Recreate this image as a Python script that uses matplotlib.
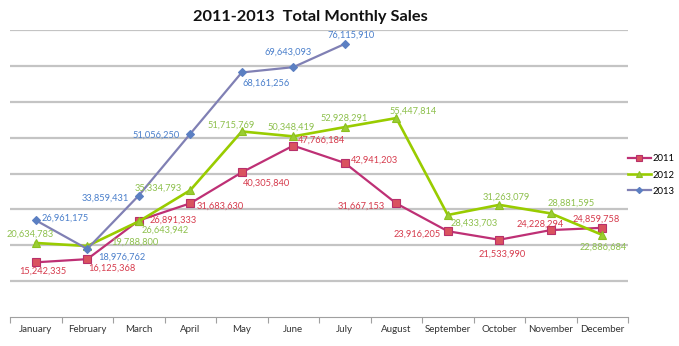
import matplotlib.pyplot as plt
import numpy as np

# Data
months = ['January', 'February', 'March', 'April', 'May', 'June', 'July',
          'August', 'September', 'October', 'November', 'December']

sales_2011 = [15242335, 16125368, 26891333, 31683630, 40305840, 47766184,
              42941203, 31667153, 23916205, 21533990, 24228294, 24859758]
sales_2012 = [20634783, 19788800, 26643942, 35334793, 51715769, 50348419,
              52928291, 55447814, 28433703, 31263079, 28881595, 22886684]
sales_2013 = [26961175, 18976762, 33859431, 51056250, 68161256, 69643093,
              76115910]

# Label offsets in pixels (dx, dy with dy positive = down)
off_2011 = [(7, 9), (25, 9), (34, 0), (30, 3), (25, 11), (28, -5),
            (30, -3), (-35, 3), (-31, 3), (3, 14), (-11, -6), (-6, -9)]
off_2012 = [(-6, -9), (48, -4), (26, 9), (-32, -2), (-11, -6), (-2, -9),
            (-1, -9), (17, -7), (26, 8), (7, -8), (20, -10), (1, 12)]
off_2013 = [(29, -2), (35, 8), (-33, 3), (-34, 1), (24, 11), (-5, -15),
            (6, -9)]

plt.rcParams['font.family'] = ['Lato', 'DejaVu Sans']

fig = plt.figure(figsize=(6.79, 3.46), dpi=100)
ax = fig.add_axes([10 / 679, 1 - 317 / 346, 618 / 679, 287 / 346])

x = np.arange(len(months))

series = [
    ('2011', sales_2011, off_2011, '#BE3075', 's', '#D9535F', '#B8306A', 6.3, 1.6, '#D63A4C'),
    ('2012', sales_2012, off_2012, '#99CC00', '^', '#9ACD32', '#8CC020', 6.2, 1.9, '#8DC04C'),
    ('2013', sales_2013, off_2013, '#8080B4', 'D', '#5B7FC2', '#5B7FC2', 4.5, 1.6, '#4A7FCB'),
]

for name, vals, offs, lc, mk, mfc, mec, ms, lw, tc in series:
    xs = x[:len(vals)]
    ax.plot(xs, vals, color=lc, lw=lw, marker=mk, markersize=ms,
            markerfacecolor=mfc, markeredgecolor=mec, markeredgewidth=0.8,
            label=name, zorder=3)
    for xi, v, (dx, dy) in zip(xs, vals, offs):
        ax.annotate(f'{v:,}', (xi, v), xytext=(dx * 0.72, -dy * 0.72),
                    textcoords='offset points', ha='center', va='center',
                    fontsize=6.7, color=tc, zorder=4)

ax.set_xlim(-0.5, 11.5)
ax.set_ylim(0, 80000000)
ax.set_yticks(np.arange(10000000, 80000001, 10000000))
ax.yaxis.grid(True, color='#C4C4C4', lw=1.6)
ax.set_axisbelow(True)
ax.tick_params(axis='y', length=0, labelleft=False)

ax.set_xticks(x)
ax.set_xticklabels(months, fontsize=7, color='#333333')
ax.set_xticks(np.arange(-0.5, 12, 1), minor=True)
ax.tick_params(axis='x', which='major', length=0, pad=6)
ax.tick_params(axis='x', which='minor', length=4, color='#A0A0A0', width=0.8)

for s in ['top', 'left', 'right']:
    ax.spines[s].set_visible(False)
ax.spines['bottom'].set_color('#A0A0A0')
ax.spines['bottom'].set_linewidth(0.8)

fig.text(0.457, 0.952, '2011-2013  Total Monthly Sales', ha='center', va='center',
         fontsize=11.8, fontweight='bold', color='#111111')

fig.legend(loc='center left', bbox_to_anchor=(628 / 679, 1 - 175 / 346),
           frameon=False, fontsize=6.8, handlelength=2.4, handletextpad=0.2,
           labelspacing=0.75, borderaxespad=0, borderpad=0, markerscale=0.7)

fig.savefig('out.png', dpi=100)
